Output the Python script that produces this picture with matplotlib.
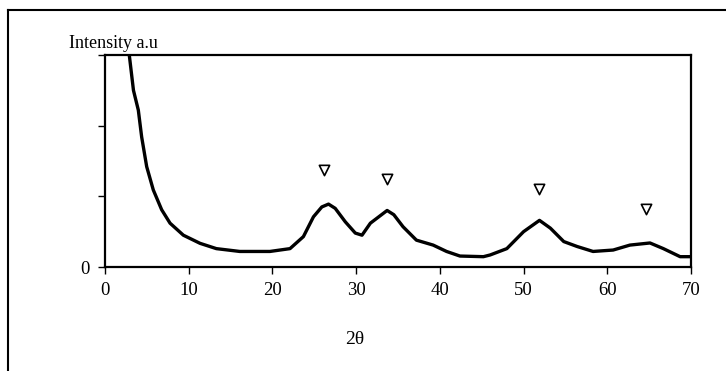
import numpy as np
import matplotlib.pyplot as plt
from matplotlib.lines import Line2D

plt.rcParams['font.family'] = ['Liberation Serif', 'DejaVu Serif']

# XRD pattern (2theta in degrees, intensity in a.u.)
two_theta = [2.7, 2.9, 3.4, 3.98, 4.38, 4.98, 5.77, 6.77, 7.77, 9.36, 11.35, 13.3,
             16.1, 19.7, 22.1, 23.7, 24.9, 25.9, 26.7, 27.5, 28.7, 29.9, 30.7,
             31.7, 32.7, 33.7, 34.5, 35.6, 37.2, 39.2, 40.8, 42.4, 45.2, 46.0,
             48.0, 50.0, 51.9, 53.2, 54.8, 56.4, 58.3, 60.7, 62.7, 65.1, 66.7,
             68.7, 70.0]
intensity = [3.3, 3.0, 2.5, 2.22, 1.84, 1.42, 1.09, 0.81, 0.62, 0.45, 0.335, 0.26,
             0.22, 0.22, 0.26, 0.43, 0.71, 0.85, 0.89, 0.83, 0.64, 0.48, 0.45,
             0.62, 0.71, 0.80, 0.74, 0.57, 0.38, 0.31, 0.22, 0.155, 0.146, 0.17,
             0.26, 0.50, 0.66, 0.55, 0.36, 0.29, 0.22, 0.24, 0.31, 0.34, 0.26,
             0.146, 0.146]

# peak markers
peak_x = [26.2, 33.7, 51.9, 64.6]
peak_y = [1.37, 1.25, 1.11, 0.82]

fig = plt.figure(figsize=(7.26, 3.71), dpi=100)
W, H = 726, 371
ax = fig.add_axes([105 / W, 1 - 267 / H, 586 / W, 212 / H])

ax.plot(two_theta, intensity, color='black', lw=2.4, solid_joinstyle='round')
ax.scatter(peak_x, peak_y, marker='v', s=55, facecolors='white',
           edgecolors='black', linewidths=1.2, zorder=3)

ax.set_xlim(0, 70)
ax.set_ylim(0, 3)
ax.set_xticks(range(0, 71, 10))
ax.set_yticks([0, 1, 2, 3])
ax.set_yticklabels(['0', '', '', ''])
ax.tick_params(direction='out', length=5, width=1, labelsize=13.5, pad=6)
for s in ax.spines.values():
    s.set_linewidth(1.6)

fig.text(69 / W, 1 - 43 / H, 'Intensity a.u', fontsize=13, va='center', ha='left')
fig.text(355 / W, 1 - 340 / H, '2θ', fontsize=14, va='center', ha='center')

# outer frame (top and left edges only visible)
fig.add_artist(Line2D([8 / W, 1.0], [1 - 10 / H, 1 - 10 / H],
                      transform=fig.transFigure, color='black', lw=1.5))
fig.add_artist(Line2D([8 / W, 8 / W], [1 - 10 / H, 0.0],
                      transform=fig.transFigure, color='black', lw=1.5))

fig.savefig('out.png', dpi=100)
